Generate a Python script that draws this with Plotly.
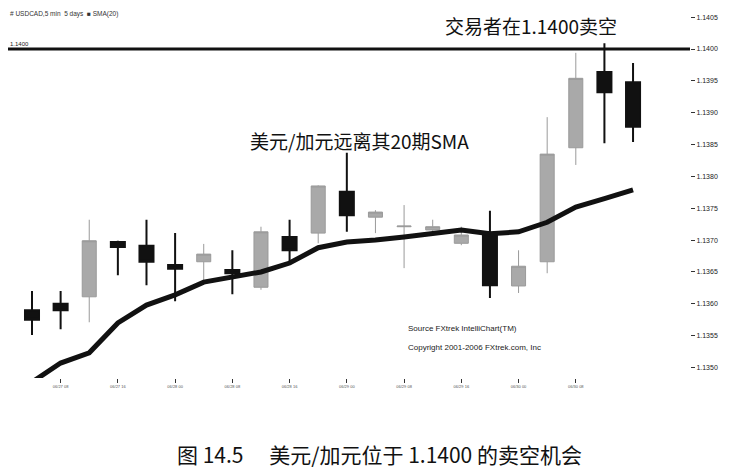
import plotly.graph_objects as go

# USD/CAD bars (index = bar number)
bars = list(range(22))
opens = [1.13590, 1.13600, 1.13611, 1.13697, 1.13691, 1.13661, 1.13666, 1.13653,
         1.13626, 1.13705, 1.13711, 1.13776, 1.13736, 1.13721, 1.13716, 1.13695,
         1.13708, 1.13628, 1.13666, 1.13845, 1.13964, 1.13948]
highs = [1.13620, 1.13620, 1.13732, 1.13699, 1.13732, 1.13711, 1.13694, 1.13684,
         1.13721, 1.13732, 1.13786, 1.13837, 1.13747, 1.13755, 1.13732, 1.13721,
         1.13746, 1.13684, 1.13893, 1.13994, 1.14009, 1.13978]
lows = [1.13551, 1.13560, 1.13571, 1.13645, 1.13629, 1.13604, 1.13637, 1.13615,
        1.13622, 1.13661, 1.13695, 1.13713, 1.13711, 1.13656, 1.13713, 1.13692,
        1.13609, 1.13617, 1.13648, 1.13818, 1.13852, 1.13854]
closes = [1.13575, 1.13590, 1.13699, 1.13689, 1.13666, 1.13655, 1.13678, 1.13648,
          1.13713, 1.13684, 1.13785, 1.13739, 1.13744, 1.13722, 1.13721, 1.13708,
          1.13629, 1.13659, 1.13835, 1.13954, 1.13932, 1.13878]
sma20 = [1.13477, 1.13507, 1.13523, 1.13570, 1.13598, 1.13614, 1.13634, 1.13642,
         1.13650, 1.13664, 1.13688, 1.13697, 1.13700, 1.13705, 1.13711, 1.13716,
         1.13710, 1.13713, 1.13728, 1.13752, 1.13765, 1.13779]

tick_bars = [1, 3, 5, 7, 9, 11, 13, 15, 17, 19]
tick_text = ["06/27 08", "06/27 16", "06/28 00", "06/28 08", "06/28 16",
             "06/29 00", "06/29 08", "06/29 16", "06/30 00", "06/30 08"]
price_ticks = [1.1350, 1.1355, 1.1360, 1.1365, 1.1370, 1.1375,
               1.1380, 1.1385, 1.1390, 1.1395, 1.1400, 1.1405]
short_level = 1.1400

fig = go.Figure()

fig.add_trace(go.Candlestick(
    x=bars, open=opens, high=highs, low=lows, close=closes,
    increasing=dict(fillcolor="#a9a9a9", line=dict(color="#9a9a9a", width=1)),
    decreasing=dict(fillcolor="#111111", line=dict(color="#111111", width=2)),
    whiskerwidth=0, showlegend=False,
))

fig.add_trace(go.Scatter(
    x=bars, y=sma20, mode="lines",
    line=dict(color="#111111", width=5), showlegend=False,
))

# sell level line
fig.add_shape(type="line", xref="paper", x0=0, x1=1, y0=short_level, y1=short_level,
              line=dict(color="#111111", width=3))

fig.add_annotation(x=0.0, y=short_level, xref="paper", text="1.1400", showarrow=False,
                   xanchor="left", yanchor="bottom",
                   font=dict(size=6, color="#222", family="Liberation Sans"))

cjk = "Noto Sans CJK SC"
fig.add_annotation(x=14.36, y=1.140377, text="交易者在1.1400卖空", showarrow=False,
                   xanchor="left", font=dict(size=19, color="#111", family=cjk))
fig.add_annotation(x=7.55, y=1.138571, text="美元/加元远离其20期SMA", showarrow=False,
                   xanchor="left", font=dict(size=19, color="#111", family=cjk))

fig.add_annotation(x=13.05, y=1.13562, text="Source FXtrek IntelliChart(TM)", showarrow=False,
                   xanchor="left", font=dict(size=8, color="#222", family="Liberation Sans"))
fig.add_annotation(x=13.05, y=1.13532, text="Copyright 2001-2006 FXtrek.com, Inc", showarrow=False,
                   xanchor="left", font=dict(size=8, color="#222", family="Liberation Sans"))

fig.add_annotation(x=0.0, y=1.0, xref="paper", yref="paper", yanchor="top",
                   text="# USDCAD,5 min  5 days  ■ SMA(20)", showarrow=False, xanchor="left",
                   font=dict(size=6.5, color="#333", family="Liberation Sans"))

fig.add_annotation(x=0.545, y=0, xref="paper", yref="paper", yanchor="middle",
                   xanchor="center", yshift=-76,
                   text="图 14.5　 美元/加元位于 1.1400 的卖空机会", showarrow=False,
                   font=dict(size=21, color="#111", family=cjk))

fig.update_layout(
    width=727, height=466,
    margin=dict(l=0, r=45, t=0, b=96),
    paper_bgcolor="white", plot_bgcolor="white",
    xaxis=dict(range=[-0.8386, 22.99], rangeslider=dict(visible=False), showgrid=False,
               zeroline=False, showline=False, tickmode="array", tickvals=tick_bars,
               ticktext=tick_text, ticks="outside", ticklen=4, tickcolor="#333",
               tickfont=dict(size=4, color="#555", family="Liberation Sans")),
    yaxis=dict(range=[1.134835, 1.140644], side="right", showgrid=False, zeroline=False,
               showline=False, tickvals=price_ticks, tickformat=".4f", ticks="outside",
               ticklen=4, tickcolor="#333",
               tickfont=dict(size=7, color="#222", family="Liberation Sans")),
)

fig.write_html("out.html")
